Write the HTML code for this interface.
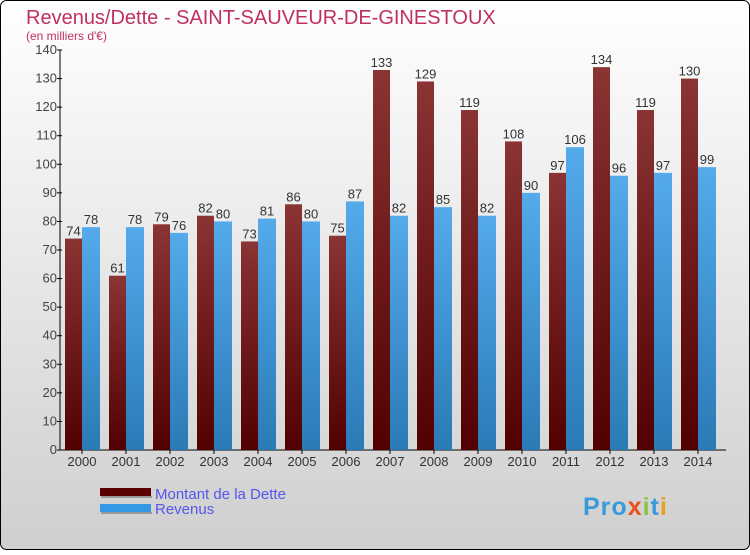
<!DOCTYPE html>
<html><head><meta charset="utf-8"><style>
body{margin:0}
#c{width:750px;height:550px;position:relative;font-family:"Liberation Sans",sans-serif}
</style></head><body>
<div id="c">
<svg id="s" width="750" height="550" xmlns="http://www.w3.org/2000/svg">
<defs>
<linearGradient id="bg" x1="0" y1="0" x2="0" y2="1"><stop offset="0" stop-color="#ffffff"/><stop offset="1" stop-color="#cfcfcf"/></linearGradient>
<linearGradient id="gd" x1="0" y1="0" x2="0" y2="1"><stop offset="0" stop-color="#8a3434"/><stop offset="1" stop-color="#520000"/></linearGradient>
<linearGradient id="gr" x1="0" y1="0" x2="0" y2="1"><stop offset="0" stop-color="#55aaea"/><stop offset="1" stop-color="#2a7ab6"/></linearGradient>
</defs>
<rect x="0.5" y="0.5" width="749" height="549" rx="6" fill="url(#bg)" stroke="#000"/>
<text x="26" y="24" font-size="20" fill="#c0305e">Revenus/Dette - SAINT-SAUVEUR-DE-GINESTOUX</text>
<text x="26" y="40" font-size="12" fill="#c0305e">(en milliers d'€)</text>
<g id="axes"></g><g id="bars"></g>
<rect x="100" y="488" width="51" height="8" fill="#5a0000"/>
<rect x="101" y="496" width="51" height="2" fill="#999"/>
<text x="155" y="499" font-size="15" fill="#5555ee">Montant de la Dette</text>
<rect x="100" y="504" width="51" height="8" fill="#3399e6"/>
<rect x="101" y="512" width="51" height="2" fill="#999"/>
<text x="155" y="514" font-size="15" fill="#5555ee">Revenus</text>
<text x="583" y="515" font-size="25" font-weight="bold" fill="#3a9ad9" letter-spacing="1">Pro<tspan fill="#e8501c">x</tspan><tspan fill="#8ac43f">i</tspan>t<tspan fill="#e8a020">i</tspan></text>
</svg></div>
<script>
const years=["2000","2001","2002","2003","2004","2005","2006","2007","2008","2009","2010","2011","2012","2013","2014"];
const dette=[74,61,79,82,73,86,75,133,129,119,108,97,134,119,130];
const revenus=[78,78,76,80,81,80,87,82,85,82,90,106,96,97,99];
const yTicks=[0,10,20,30,40,50,60,70,80,90,100,110,120,130,140];
const NS="http://www.w3.org/2000/svg";
const x0=60,slot=44,y0=450,yMax=140,h=400;
const Y=v=>y0-v/yMax*h;
const X=i=>x0+slot*i;
function mk(t,a,p,txt){const e=document.createElementNS(NS,t);for(const k in a)e.setAttribute(k,a[k]);if(txt!==undefined)e.textContent=txt;p.appendChild(e);return e;}
const ax=document.getElementById('axes'),bg=document.getElementById('bars');
let l=mk('line',{x1:x0,y1:Y(yMax),x2:x0,y2:y0,stroke:'#000'},ax);


l=mk('line',{x1:x0,y1:y0,x2:X(years.length)+6,y2:y0,stroke:'#000'},ax);


yTicks.forEach(v=>{
 mk('line',{x1:x0-3,y1:Y(v),x2:x0+2,y2:Y(v),stroke:'#000'},ax);
 const t=mk('text',{x:x0-3,y:Y(v)+4,'font-size':13,'text-anchor':'end',fill:'#444'},ax,v);
 
 
});
years.forEach((yr,i)=>{
 mk('line',{x1:X(i)+22,y1:y0,x2:X(i)+22,y2:y0+4,stroke:'#000'},ax);
 const t=mk('text',{x:X(i)+22,y:y0+16,'font-size':13,'text-anchor':'middle',fill:'#333'},ax,yr);
 
 
 const b1=mk('rect',{x:X(i)+5,y:Y(dette[i]),width:17,height:y0-Y(dette[i]),fill:'url(#gd)'},bg);
 
 
 const b2=mk('rect',{x:X(i)+22,y:Y(revenus[i]),width:18,height:y0-Y(revenus[i]),fill:'url(#gr)'},bg);
 
 
 const v1=mk('text',{x:X(i)+13.5,y:Y(dette[i])-3,'font-size':13,'text-anchor':'middle',fill:'#333'},bg,dette[i]);
 
 
 const v2=mk('text',{x:X(i)+31,y:Y(revenus[i])-3,'font-size':13,'text-anchor':'middle',fill:'#333'},bg,revenus[i]);
 
 
});
</script>
</body></html>
